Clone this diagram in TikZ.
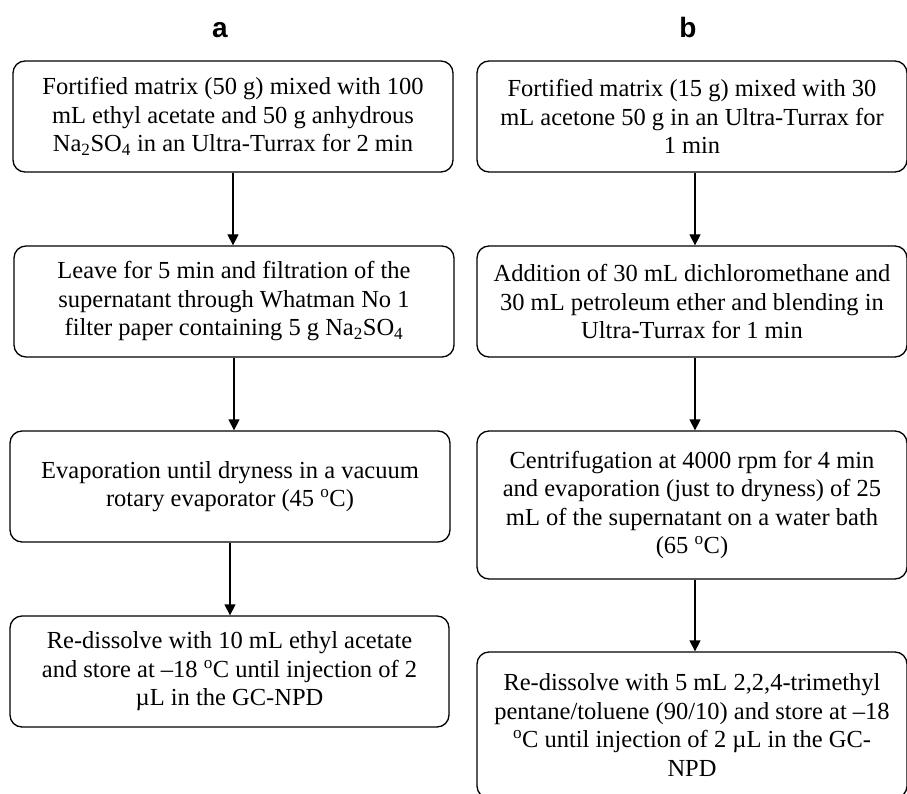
\documentclass[tikz,border=0pt]{standalone}
\usepackage{fontspec}
\setmainfont{Liberation Serif}
\newfontfamily\labfont{Liberation Sans}
\usetikzlibrary{arrows.meta}
\begin{document}
\begin{tikzpicture}[x=1pt,y=-1pt,
  stepbox/.style={draw, line width=1.3pt, rounded corners=12pt, align=center,
    inner sep=0pt, font=\fontsize{24.5}{28.5}\selectfont},
  flow/.style={line width=1.3pt, -{Triangle[length=11pt,width=11pt]}},
  panel/.style={font=\labfont\bfseries\fontsize{28}{30}\selectfont}]
\clip (0,0) rectangle (907,794);
\fill[white] (0,0) rectangle (907,794);
\node[panel] (la) at (220,30) {a};
\node[panel] (lb) at (688,27) {b};
% column a
\node[stepbox, minimum width=440pt, minimum height=111pt] (a1) at (233,116.5)
  {Fortified matrix (50 g) mixed with 100\\ mL ethyl acetate and 50 g anhydrous\\ Na\textsubscript{2}SO\textsubscript{4} in an Ultra-Turrax for 2 min};
\node[stepbox, minimum width=440pt, minimum height=111pt] (a2) at (234,301.5)
  {Leave for 5 min and filtration of the\\ supernatant through Whatman No 1\\ filter paper containing 5 g Na\textsubscript{2}SO\textsubscript{4}};
\node[stepbox, minimum width=440pt, minimum height=111pt] (a3) at (230,486.5)
  {Evaporation until dryness in a vacuum\\ rotary evaporator (45 \textsuperscript{o}C)};
\node[stepbox, minimum width=439pt, minimum height=111pt] (a4) at (229.5,671.5)
  {Re-dissolve with 10 mL ethyl acetate\\ and store at –18 \textsuperscript{o}C until injection of 2\\ µL in the GC-NPD};
% column b
\node[stepbox, minimum width=430pt, minimum height=111pt] (b1) at (692,116.5)
  {Fortified matrix (15 g) mixed with 30\\ mL acetone 50 g in an Ultra-Turrax for\\ 1 min};
\node[stepbox, minimum width=430pt, minimum height=111pt] (b2) at (692,301.5)
  {Addition of 30 mL dichloromethane and\\ 30 mL petroleum ether and blending in\\ Ultra-Turrax for 1 min};
\node[stepbox, minimum width=430pt, minimum height=148pt] (b3) at (692,505)
  {Centrifugation at 4000 rpm for 4 min\\ and evaporation (just to dryness) of 25\\ mL of the supernatant on a water bath\\ (65 \textsuperscript{o}C)};
\node[stepbox, minimum width=430pt, minimum height=146pt] (b4) at (692,725)
  {Re-dissolve with 5 mL 2,2,4-trimethyl\\ pentane/toluene (90/10) and store at –18\\ \textsuperscript{o}C until injection of 2 µL in the GC-\\ NPD};
\draw[flow] (a1.south) -- (a1.south |- a2.north);
\draw[flow] (a2.south) -- (a2.south |- a3.north);
\draw[flow] (a3.south) -- (a3.south |- a4.north);
\draw[flow] ([xshift=3pt]b1.south) -- ([xshift=3pt]b1.south |- b2.north);
\draw[flow] ([xshift=3pt]b2.south) -- ([xshift=3pt]b2.south |- b3.north);
\draw[flow] ([xshift=3pt]b3.south) -- ([xshift=3pt]b3.south |- b4.north);
\end{tikzpicture}
\end{document}
